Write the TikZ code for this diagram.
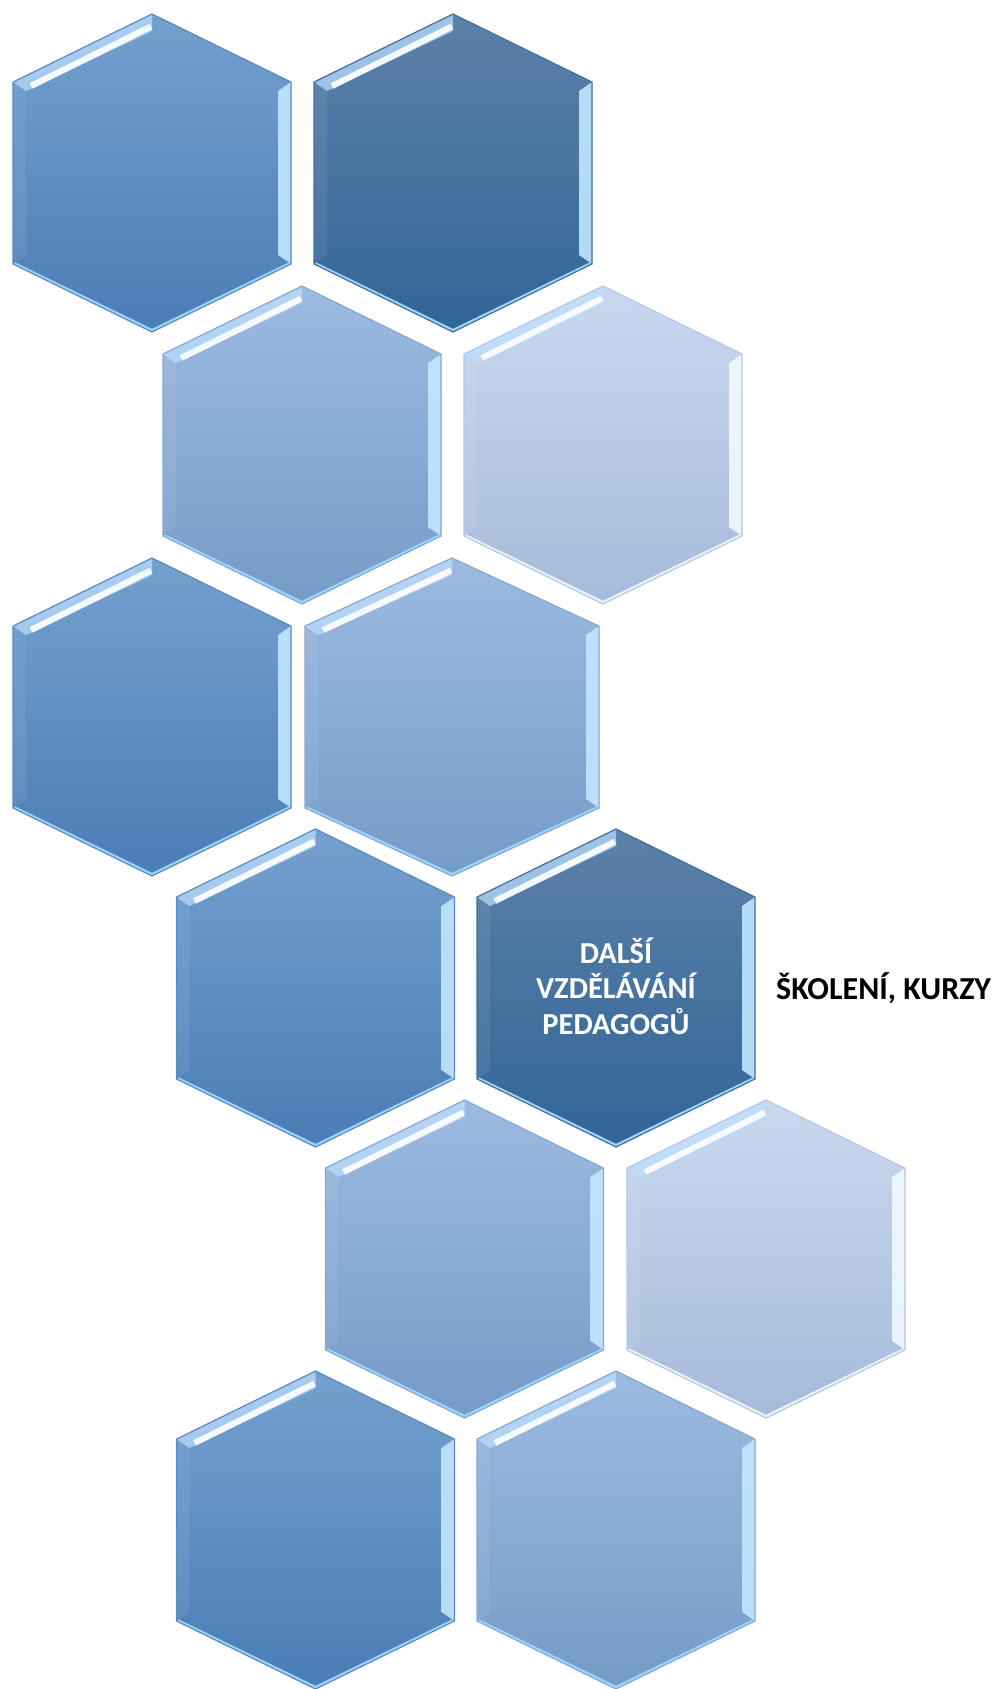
\documentclass[tikz,border=0pt]{standalone}
\usepackage{fontspec}
\setmainfont{Carlito}
\usetikzlibrary{calc}
\definecolor{medTop}{HTML}{74A0CD}
\definecolor{medBot}{HTML}{4A7DB5}
\definecolor{medLine}{HTML}{5A8AC1}
\definecolor{darkTop}{HTML}{5C81A9}
\definecolor{darkBot}{HTML}{316597}
\definecolor{darkLine}{HTML}{426F9E}
\definecolor{lmTop}{HTML}{9DBAE0}
\definecolor{lmBot}{HTML}{759BC7}
\definecolor{lmLine}{HTML}{86A8D2}
\definecolor{ltTop}{HTML}{C8D8EF}
\definecolor{ltBot}{HTML}{A6BBD9}
\definecolor{ltLine}{HTML}{B4C8E5}
\definecolor{glintCyan}{HTML}{9AD6FF}
\definecolor{glintPale}{HTML}{E8F5FF}
\definecolor{bandBlue}{HTML}{BFE0FF}
\tikzset{
  hextext/.style={text=white, font=\bfseries\fontsize{30.5}{35.5}\selectfont, align=center, inner sep=0pt},
  sidetext/.style={text=black, font=\bfseries\fontsize{32}{36}\selectfont, inner sep=0pt, anchor=base west}
}
% #1 name, #2 cx, #3 cy, #4 half width, #5 half height, #6 top, #7 bottom, #8 outline, #9 glint
\newcommand{\bevelhex}[9]{%
\begin{scope}[shift={(#2,-#3)}]
\pgfmathsetmacro{\ha}{#4}
\pgfmathsetmacro{\hr}{#5}
\pgfmathsetmacro{\hs}{#5*0.572}
\pgfmathsetmacro{\ia}{#4-13}
\pgfmathsetmacro{\ir}{#5-17}
\pgfmathsetmacro{\is}{#5*0.572-9}
\coordinate (#1) at (0,0);
\path[top color=#6, bottom color=#7] (0,\hr) -- (\ha,\hs) -- (\ha,-\hs) -- (0,-\hr) -- (-\ha,-\hs) -- (-\ha,\hs) -- cycle;
\fill[white, fill opacity=0.07] (-\ha,\hs) -- (-\ia,\is) -- (-\ia,-\is) -- (-\ha,-\hs) -- cycle;
\fill[bandBlue, fill opacity=0.7] (-\ha,\hs) -- (0,\hr) -- (0,\ir) -- (-\ia,\is) -- cycle;
\draw[white, line width=6, opacity=0.9] ($(-\ia,\is)+(5,5)$) -- (-1,\ir+4.5);
\path[left color=#9!60!white, middle color=white, right color=#9!60!white, fill opacity=0.9] (\ia,\is) -- (\ha,\hs) -- (\ha,-\hs) -- (\ia,-\is) -- cycle;
\draw[#9, line width=2.5] (\ha-1.5,-\hs+0.5) -- (0,-\hr+1.8) -- (-\ha+1.5,-\hs+0.5);
\draw[#8, line width=1.2] (0,\hr) -- (\ha,\hs) -- (\ha,-\hs) -- (0,-\hr) -- (-\ha,-\hs) -- (-\ha,\hs) -- cycle;
\end{scope}}
\begin{document}
\begin{tikzpicture}[x=1pt,y=1pt]
\useasboundingbox[fill=white] (0,0) rectangle (995,-1689);
% row 1
\bevelhex{A}{152}{173}{139}{159}{medTop}{medBot}{medLine}{glintCyan}
\bevelhex{B}{453}{173}{139}{159}{darkTop}{darkBot}{darkLine}{glintCyan}
% row 2
\bevelhex{C}{302}{445}{139}{159}{lmTop}{lmBot}{lmLine}{glintCyan}
\bevelhex{D}{603}{445}{139}{159}{ltTop}{ltBot}{ltLine}{glintPale}
% row 3
\bevelhex{E}{152}{717}{139}{159}{medTop}{medBot}{medLine}{glintCyan}
\bevelhex{F}{452}{717}{147}{159}{lmTop}{lmBot}{lmLine}{glintCyan}
% row 4
\bevelhex{G}{315.5}{988}{139}{159}{medTop}{medBot}{medLine}{glintCyan}
\bevelhex{H}{616}{988}{139}{159}{darkTop}{darkBot}{darkLine}{glintCyan}
% row 5
\bevelhex{I}{464.5}{1259}{139}{159}{lmTop}{lmBot}{lmLine}{glintCyan}
\bevelhex{J}{766}{1259}{139}{159}{ltTop}{ltBot}{ltLine}{glintPale}
% row 6
\bevelhex{K}{315.5}{1530}{139}{159}{medTop}{medBot}{medLine}{glintCyan}
\bevelhex{L}{616}{1530}{139}{159}{lmTop}{lmBot}{lmLine}{glintCyan}
% texts
\node[hextext] (htext) at ($(H)+(0,2)$) {DALŠÍ\\VZDĚLÁVÁNÍ\\PEDAGOGŮ};
\node[sidetext] (side) at (776,-999) {ŠKOLENÍ, KURZY};
\end{tikzpicture}
\end{document}
